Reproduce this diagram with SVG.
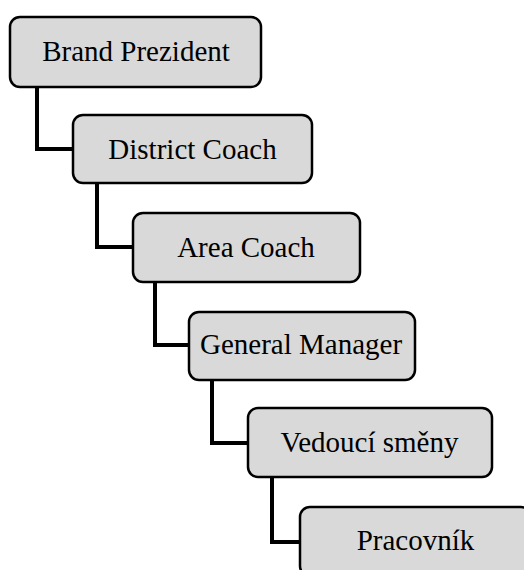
<svg xmlns="http://www.w3.org/2000/svg" width="524" height="570" viewBox="0 0 524 570">
<style>
.box{fill:#d9d9d9;stroke:#000;stroke-width:2.5}
.lbl{font-family:'Liberation Serif',serif;font-size:29px;fill:#000;text-anchor:middle}
.conn{fill:none;stroke:#000;stroke-width:4;stroke-linejoin:miter}
</style>
<rect width="524" height="570" fill="#fff"/>
<g id="connectors">
<path class="conn" d="M37 87 V149 H73"/>
<path class="conn" d="M97 183 V247 H133"/>
<path class="conn" d="M155 282 V345 H189"/>
<path class="conn" d="M212 380 V443 H248"/>
<path class="conn" d="M272 477 V542 H300"/>
</g>
<g id="brand-prezident">
<rect class="box" x="10" y="17" width="251" height="70" rx="10"/>
<text class="lbl" x="136" y="61">Brand Prezident</text>
</g>
<g id="district-coach">
<rect class="box" x="73" y="115" width="239" height="68" rx="10"/>
<text class="lbl" x="192.5" y="159">District Coach</text>
</g>
<g id="area-coach">
<rect class="box" x="133" y="213" width="227" height="69" rx="10"/>
<text class="lbl" x="246" y="257">Area Coach</text>
</g>
<g id="general-manager">
<rect class="box" x="189" y="312" width="226" height="68" rx="10"/>
<text class="lbl" x="301" y="354">General Manager</text>
</g>
<g id="vedouci-smeny">
<rect class="box" x="248" y="408" width="244" height="69" rx="10"/>
<text class="lbl" x="369.5" y="452">Vedoucí směny</text>
</g>
<g id="pracovnik">
<rect class="box" x="300" y="507" width="231" height="69" rx="10"/>
<text class="lbl" x="415.5" y="550">Pracovník</text>
</g>
</svg>
